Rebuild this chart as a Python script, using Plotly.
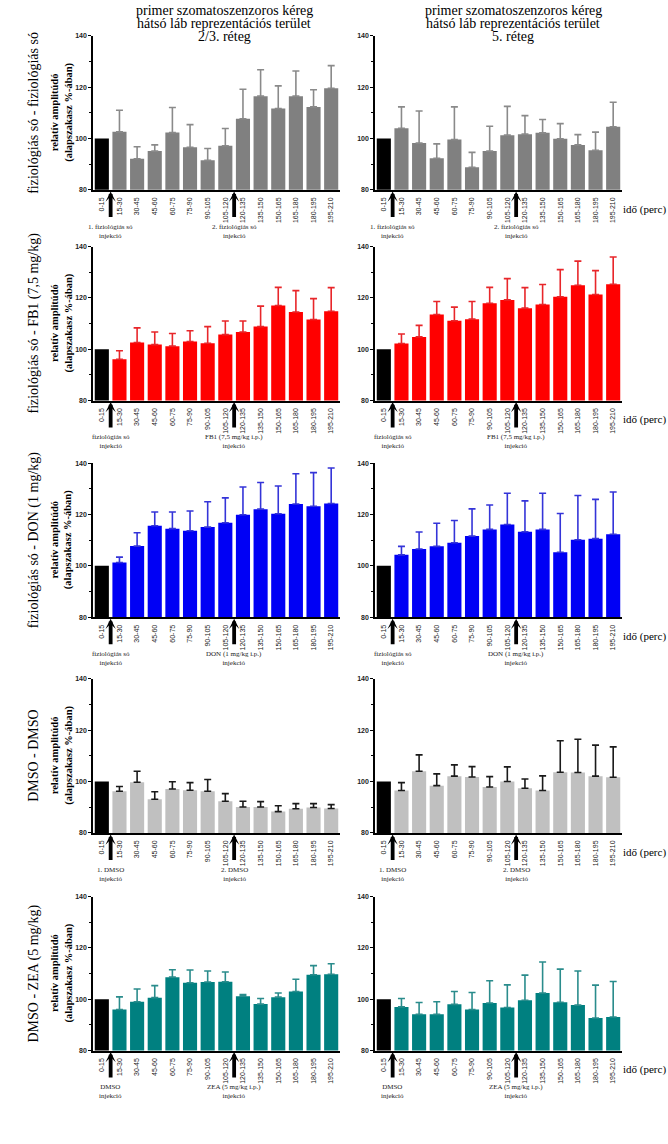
import plotly.graph_objects as go
from plotly.subplots import make_subplots

categories = ["0-15", "15-30", "30-45", "45-60", "60-75", "75-90", "90-105",
              "105-120", "120-135", "135-150", "150-165", "165-180", "180-195", "195-210"]
baseline = 100

# row 1: fiziológiás só - fiziológiás só
r1_left = [102.6, 92.1, 95.1, 102.3, 96.6, 91.5, 97.2, 107.7, 116.5, 111.7, 116.5, 112.3, 119.6]
r1_left_err = [8.4, 4.7, 2.4, 9.8, 8.8, 4.6, 6.7, 11.5, 10.3, 8.8, 9.8, 6.7, 8.8]
r1_right = [104.0, 98.2, 92.3, 99.6, 88.8, 95.1, 101.3, 101.7, 102.2, 99.9, 97.5, 95.4, 104.6]
r1_right_err = [8.3, 12.5, 5.6, 12.7, 5.8, 9.7, 11.2, 7.2, 5.2, 5.9, 4.0, 7.1, 9.5]
# row 2: fiziológiás só - FB1
r2_left = [96.1, 102.6, 101.8, 101.2, 103.0, 102.3, 105.7, 106.7, 108.8, 117.0, 114.5, 111.6, 114.8]
r2_left_err = [3.3, 5.7, 4.9, 4.9, 4.2, 6.5, 5.3, 4.3, 8.0, 7.1, 8.3, 8.1, 9.2]
r2_right = [102.2, 104.8, 113.5, 111.1, 111.7, 117.9, 119.2, 116.0, 117.4, 120.4, 124.9, 121.3, 125.3]
r2_right_err = [3.7, 4.5, 5.1, 5.3, 6.9, 6.2, 8.3, 8.0, 7.8, 10.6, 9.4, 9.3, 10.6]
# row 3: fiziológiás só - DON
r3_left = [101.3, 107.7, 115.6, 114.5, 113.7, 115.1, 116.8, 119.9, 122.1, 120.3, 124.1, 123.2, 124.3]
r3_left_err = [2.1, 5.2, 5.4, 6.5, 7.7, 9.9, 9.7, 10.8, 10.4, 10.8, 11.8, 13.1, 13.8]
r3_right = [104.3, 106.6, 107.6, 109.0, 111.6, 114.2, 116.1, 113.3, 114.2, 105.3, 110.2, 110.6, 112.3]
r3_right_err = [3.3, 6.6, 9.0, 8.7, 10.6, 9.5, 12.2, 12.0, 14.1, 15.1, 17.2, 15.3, 16.5]
# row 4: DMSO - DMSO
r4_left = [96.2, 99.7, 93.1, 97.1, 96.6, 96.2, 92.3, 90.1, 90.1, 88.3, 89.4, 89.9, 89.5]
r4_left_err = [1.9, 4.3, 2.9, 2.8, 3.0, 4.6, 3.0, 2.2, 2.1, 2.3, 2.0, 1.5, 1.5]
r4_right = [96.5, 104.0, 98.4, 102.1, 101.8, 97.9, 100.0, 97.4, 96.5, 103.6, 103.5, 102.1, 101.7]
r4_right_err = [3.1, 6.4, 4.6, 4.4, 4.0, 4.0, 5.7, 3.6, 5.7, 12.3, 13.0, 12.1, 11.8]
# row 5: DMSO - ZEA
r5_left = [96.0, 99.0, 100.6, 108.6, 106.4, 106.7, 106.8, 101.2, 98.1, 100.8, 103.0, 109.5, 109.7]
r5_left_err = [4.9, 5.0, 4.7, 2.9, 5.0, 4.3, 3.8, 0.6, 2.2, 1.6, 4.8, 3.6, 4.1]
r5_right = [97.0, 94.1, 94.1, 98.0, 96.0, 98.5, 96.8, 99.6, 102.4, 98.8, 97.7, 92.7, 93.1]
r5_right_err = [3.3, 4.6, 4.9, 5.0, 6.6, 8.7, 8.8, 9.8, 12.1, 12.9, 13.3, 12.8, 13.8]

row_titles = ["fiziológiás só - fiziológiás só", "fiziológiás só - FB1 (7,5 mg/kg)",
              "fiziológiás só - DON (1 mg/kg)", "DMSO - DMSO", "DMSO - ZEA (5 mg/kg)"]
first_injection = ["1. fiziológiás só<br>injekció", "fiziológiás só<br>injekció",
                   "fiziológiás só<br>injekció", "1. DMSO<br>injekció", "DMSO<br>injekció"]
second_injection = ["2. fiziológiás só<br>injekció", "FB1 (7,5 mg/kg i.p.)<br>injekció",
                    "DON (1 mg/kg i.p.)<br>injekció", "2. DMSO<br>injekció",
                    "ZEA (5 mg/kg i.p.)<br>injekció"]
col_titles = [["primer szomatoszenzoros kéreg", "hátsó láb reprezentációs terület", "2/3. réteg"],
              ["primer szomatoszenzoros kéreg", "hátsó láb reprezentációs terület", "5. réteg"]]
bar_colors = ["#808080", "#ff0000", "#0000f5", "#c0c0c0", "#008080"]
err_colors = ["#8a8a8a", "#e8262a", "#3434d8", "#1a1a1a", "#2a8c8c"]

data = [[(r1_left, r1_left_err), (r1_right, r1_right_err)],
        [(r2_left, r2_left_err), (r2_right, r2_right_err)],
        [(r3_left, r3_left_err), (r3_right, r3_right_err)],
        [(r4_left, r4_left_err), (r4_right, r4_right_err)],
        [(r5_left, r5_left_err), (r5_right, r5_right_err)]]

W, H = 668, 1144
col_dom = [(93 / W, 340 / W), (375 / W, 622 / W)]
row_px = [(32, 187), (244, 399), (462, 617), (679, 834), (898, 1053)]
row_dom = [(1 - b / H, 1 - t / H) for t, b in row_px]

SERIF = "Liberation Serif"
SANS = "Liberation Sans"

fig = make_subplots(rows=5, cols=2)
annotations = []
xidx = list(range(len(categories)))

for r in range(5):
    for c in range(2):
        n = r * 2 + c + 1
        vals, errs = data[r][c]
        fig.add_trace(go.Bar(x=[xidx[0]], y=[baseline], marker_color="black",
                             marker_line_width=0, showlegend=False, width=0.8),
                      row=r + 1, col=c + 1)
        fig.add_trace(go.Bar(x=xidx[1:], y=vals, marker_color=bar_colors[r],
                             marker_line_width=0, showlegend=False, width=0.8,
                             error_y=dict(type="data", symmetric=False, array=errs,
                                          arrayminus=[0] * len(errs),
                                          color=err_colors[r], thickness=1.6, width=3.5)),
                      row=r + 1, col=c + 1)
        sfx = "" if n == 1 else str(n)
        fig.update_layout({
            "xaxis" + sfx: dict(domain=list(col_dom[c]), range=[-0.5, 13.5],
                                tickmode="array", tickvals=xidx, ticktext=categories,
                                tickangle=-90, tickfont=dict(family=SANS, size=7, color="#222"),
                                showline=True, linecolor="black", linewidth=1.5,
                                ticks="", showgrid=False, zeroline=False,
                                ticklabelstandoff=3, anchor="y" + sfx),
            "yaxis" + sfx: dict(domain=list(row_dom[r]), range=[80, 140],
                                tickvals=[80, 100, 120, 140],
                                tickfont=dict(family=SANS, size=7, color="#222", weight="bold"),
                                ticks="outside", ticklen=3, tickwidth=1, tickcolor="black",
                                minor=dict(tickvals=[90, 110, 130], ticks="outside",
                                           ticklen=2, tickcolor="black"),
                                showline=True, linecolor="black", linewidth=1.5,
                                showgrid=False, zeroline=False, anchor="x" + sfx),
        })
        # injection arrows and labels
        for xpos, label in ((0.5, first_injection[r]), (7.5, second_injection[r])):
            annotations.append(dict(x=xpos, y=-0.01, xref="x" + sfx, yref="y" + sfx + " domain",
                                    text="", showarrow=True, ax=0, ay=27, arrowhead=3,
                                    arrowsize=0.45, arrowwidth=3.8, arrowcolor="black", standoff=0))
            annotations.append(dict(x=xpos, y=-0.2, xref="x" + sfx, yref="y" + sfx + " domain",
                                    text=label, showarrow=False, xanchor="center", yanchor="top",
                                    font=dict(family=SERIF, size=7, color="#222")))
        if c == 0:
            annotations.append(dict(x=62 / W, y=0.5, xref="paper", yref="y" + sfx + " domain",
                                    text="relatív amplitúdó<br>(alapszakasz %-ában)",
                                    textangle=-90, showarrow=False, xanchor="center",
                                    yanchor="middle",
                                    font=dict(family=SERIF, size=10.5, color="black",
                                              weight="bold")))
            annotations.append(dict(x=34 / W, y=0.5, xref="paper", yref="y" + sfx + " domain",
                                    text=row_titles[r], textangle=-90, showarrow=False,
                                    xanchor="center", yanchor="middle",
                                    font=dict(family=SERIF, size=14, color="black")))
        else:
            annotations.append(dict(x=644 / W, y=-0.125, xref="paper", yref="y" + sfx + " domain",
                                    text="idő (perc)", showarrow=False, xanchor="center",
                                    yanchor="middle",
                                    font=dict(family=SERIF, size=11, color="black")))

col_centers = [224, 513]
line_y = [7, 20, 33]
for c in range(2):
    for i, line in enumerate(col_titles[c]):
        annotations.append(dict(x=col_centers[c] / W, y=1 - line_y[i] / H, xref="paper", yref="paper",
                                text=line, showarrow=False, xanchor="center", yanchor="middle",
                                font=dict(family=SERIF, size=14, color="black")))

fig.update_layout(width=W, height=H, margin=dict(l=0, r=0, t=0, b=0),
                  paper_bgcolor="white", plot_bgcolor="white", barmode="overlay",
                  annotations=annotations, showlegend=False)
fig.write_html("out.html")
